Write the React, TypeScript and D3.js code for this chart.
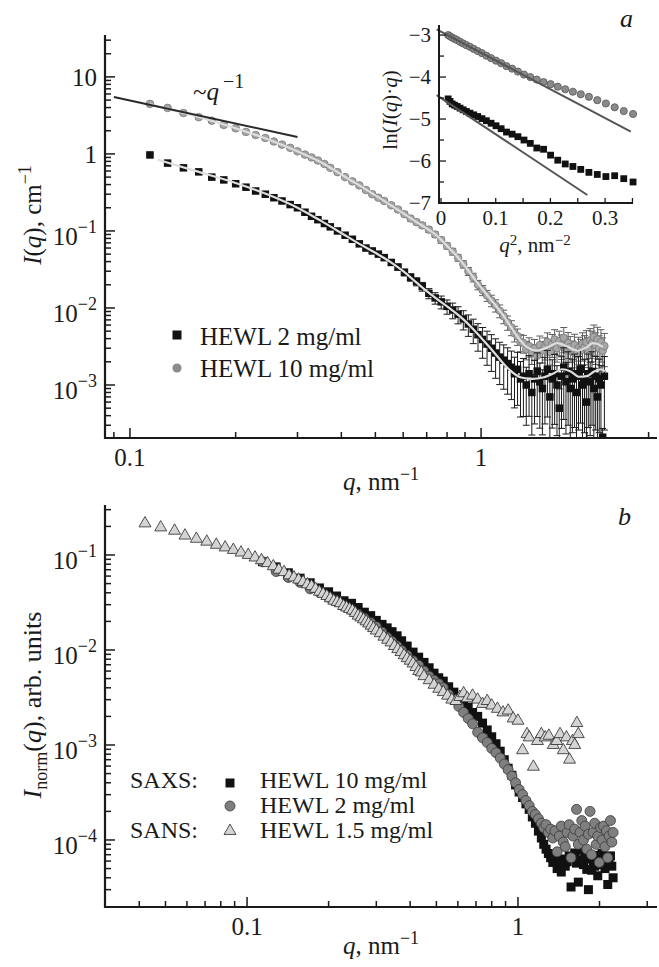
import * as d3 from "d3";

const FONT = "'Liberation Serif', 'Times New Roman', Times, serif";
const W = 659;
const H = 967;

// ---- panel a: SAXS, absolute intensity (q in nm^-1, I in cm^-1) ----
const qSaxs = [
  0.114, 0.128, 0.142, 0.157, 0.171, 0.185, 0.2, 0.214, 0.228, 0.243, 0.257, 0.271, 0.286, 0.3, 0.315, 0.329, 0.343, 0.358, 0.372,
  0.39, 0.41, 0.43, 0.45, 0.47, 0.49, 0.51, 0.53, 0.555, 0.58, 0.605, 0.63, 0.655, 0.68, 0.71, 0.74, 0.77, 0.8, 0.83, 0.86, 0.89,
  0.92, 0.95, 0.98, 1.01, 1.04, 1.07, 1.1, 1.13, 1.16, 1.19,
  1.22, 1.245, 1.27, 1.295, 1.32, 1.345, 1.37, 1.395, 1.42, 1.445, 1.47, 1.495, 1.52, 1.545, 1.57, 1.595, 1.62, 1.645, 1.67, 1.695,
  1.72, 1.745, 1.77, 1.795, 1.82, 1.845, 1.87, 1.895, 1.92, 1.945, 1.97, 1.995, 2.02, 2.045, 2.07, 2.095, 2.12, 2.145, 2.17, 2.195,
  2.22, 2.245,
];

const iTop2mg = [
  0.97, 0.76, 0.66, 0.585, 0.5, 0.46, 0.41, 0.37, 0.33, 0.3, 0.27, 0.245, 0.22, 0.2, 0.175, 0.155, 0.14, 0.125, 0.113,
  0.1, 0.088, 0.078, 0.068, 0.06, 0.055, 0.05, 0.045, 0.039, 0.034, 0.029, 0.025, 0.022, 0.019, 0.0155, 0.0135, 0.012, 0.0105,
  0.0094, 0.0083, 0.0072, 0.0062, 0.0053, 0.0045, 0.0039, 0.0034, 0.003, 0.0026, 0.0023, 0.0021, 0.0019,
  0.0017, 0.0014, 0.0016, 0.0012, 0.0013, 0.001, 0.0014, 0.0008, 0.0012, 0.0015, 0.0011, 0.0009, 0.0013, 0.0016, 0.0007, 0.0012,
  0.0014, 0.001, 0.0005, 0.0013, 0.0017, 0.0011, 0.0015, 0.0009, 0.0012, 0.0014, 0.0008, 0.0013, 0.0016, 0.001, 0.0012, 0.0006,
  0.0014, 0.0011, 0.0015, 0.0009, 0.0013, 0.0007, 0.0012, 0.001, 0.00021, 0.0013,
];

const iTop10mg = [
  4.46, 3.96, 3.4, 3.0, 2.7, 2.38, 2.15, 1.93, 1.76, 1.61, 1.45, 1.32, 1.2, 1.08, 0.98, 0.9, 0.82, 0.74, 0.66,
  0.58, 0.5, 0.44, 0.39, 0.34, 0.3, 0.27, 0.245, 0.215, 0.19, 0.165, 0.145, 0.13, 0.118, 0.104, 0.09, 0.076, 0.064, 0.054, 0.045,
  0.037, 0.03, 0.025, 0.02, 0.017, 0.0145, 0.0125, 0.0108, 0.0092, 0.0078, 0.0065,
  0.0056, 0.0047, 0.0043, 0.0036, 0.0035, 0.0029, 0.0032, 0.0026, 0.003, 0.0024, 0.0033, 0.0028, 0.0031, 0.0036, 0.0027, 0.0034,
  0.0039, 0.003, 0.0037, 0.0033, 0.0041, 0.0029, 0.0035, 0.0031, 0.0027, 0.0033, 0.0025, 0.003, 0.0028, 0.0034, 0.0031, 0.0036,
  0.0029, 0.0038, 0.0035, 0.0042, 0.0033, 0.0039, 0.003, 0.0036, 0.0028, 0.0032,
];

// relative errors
const errTop2mg = [
  0.04, 0.04, 0.04, 0.04, 0.04, 0.04, 0.04, 0.04, 0.04, 0.04, 0.04, 0.04, 0.04, 0.04, 0.04, 0.04, 0.04, 0.04, 0.04,
  0.04, 0.04, 0.05, 0.05, 0.05, 0.06, 0.06, 0.07, 0.08, 0.09, 0.1, 0.11, 0.12, 0.13, 0.15, 0.17, 0.19, 0.21, 0.23, 0.25,
  0.28, 0.31, 0.35, 0.39, 0.43, 0.47, 0.5, 0.53, 0.56, 0.58, 0.6,
  0.62, 0.64, 0.66, 0.68, 0.7, 0.7, 0.72, 0.72, 0.74, 0.74, 0.75, 0.75, 0.76, 0.76, 0.77, 0.77, 0.78, 0.78, 0.78, 0.79,
  0.79, 0.79, 0.8, 0.8, 0.8, 0.8, 0.8, 0.8, 0.8, 0.8, 0.8, 0.8, 0.8, 0.8, 0.8, 0.8, 0.8, 0.8, 0.8, 0.8, 0.3, 0.8,
];

const errTop10mg = [
  0.05, 0.05, 0.05, 0.05, 0.05, 0.05, 0.05, 0.05, 0.05, 0.05, 0.05, 0.05, 0.05, 0.05, 0.05, 0.05, 0.05, 0.05, 0.05,
  0.05, 0.05, 0.05, 0.05, 0.05, 0.05, 0.05, 0.05, 0.06, 0.06, 0.06, 0.07, 0.07, 0.07, 0.08, 0.08, 0.09, 0.09, 0.1, 0.1,
  0.11, 0.12, 0.13, 0.14, 0.15, 0.16, 0.17, 0.18, 0.19, 0.2, 0.21,
  0.22, 0.23, 0.24, 0.25, 0.26, 0.27, 0.28, 0.29, 0.3, 0.3, 0.31, 0.31, 0.32, 0.32, 0.33, 0.33, 0.34, 0.34, 0.35, 0.35,
  0.36, 0.36, 0.37, 0.37, 0.38, 0.38, 0.39, 0.39, 0.4, 0.4, 0.41, 0.41, 0.42, 0.42, 0.43, 0.43, 0.44, 0.44, 0.45, 0.45, 0.46, 0.46,
];

// model curves drawn over the data
const fitQ2mg = [0.12, 0.15, 0.2, 0.25, 0.3, 0.35, 0.4, 0.45, 0.5, 0.55, 0.6, 0.65, 0.7, 0.75, 0.8, 0.85, 0.9, 0.95, 1.0, 1.05, 1.1, 1.2, 1.3, 1.4, 1.5, 1.6, 1.7, 1.8, 1.9, 2.0, 2.1, 2.2, 2.25];
const fitI2mg = [0.84, 0.62, 0.42, 0.29, 0.2, 0.135, 0.094, 0.068, 0.052, 0.04, 0.03, 0.022, 0.0165, 0.013, 0.0105, 0.0085, 0.0068, 0.0053, 0.0041, 0.0032, 0.0025, 0.0016, 0.00125, 0.0012, 0.00125, 0.0014, 0.0016, 0.0015, 0.00128, 0.0013, 0.0015, 0.0016, 0.0015];
const fitQ10mg = [0.114, 0.15, 0.2, 0.25, 0.3, 0.35, 0.4, 0.45, 0.5, 0.55, 0.6, 0.65, 0.7, 0.75, 0.8, 0.85, 0.9, 0.95, 1.0, 1.05, 1.1, 1.15, 1.2, 1.25, 1.3, 1.35, 1.44, 1.55, 1.65, 1.75, 1.88, 2.0, 2.08, 2.15, 2.22];
const fitI10mg = [4.4, 3.2, 2.15, 1.52, 1.08, 0.78, 0.54, 0.39, 0.29, 0.22, 0.17, 0.133, 0.108, 0.086, 0.064, 0.048, 0.035, 0.025, 0.0185, 0.014, 0.0108, 0.0083, 0.0062, 0.0047, 0.0037, 0.0031, 0.0028, 0.0031, 0.0035, 0.0032, 0.0028, 0.0031, 0.0035, 0.0034, 0.0031];

// ~q^-1 guide
const powerQ = [0.09, 0.3];
const powerI = [5.5, 1.66];

// ---- inset: ln(I q) vs q^2 ----
const insetQ2 = [
  0.013, 0.0165, 0.0204, 0.0248, 0.0296, 0.0348, 0.0404, 0.0464, 0.0529, 0.0598, 0.0671, 0.0748, 0.0829, 0.0915, 0.1005, 0.1099,
  0.1197, 0.13, 0.1406, 0.1517, 0.1632, 0.1751, 0.1875, 0.2003, 0.2134, 0.2271, 0.2411, 0.2555, 0.2704, 0.2857, 0.3014, 0.3175,
  0.3341, 0.3511,
];
const insetLn10mg = [
  -3.0, -3.03, -3.06, -3.09, -3.12, -3.16, -3.2, -3.24, -3.28, -3.33, -3.38, -3.43, -3.49, -3.55, -3.61, -3.67, -3.74, -3.8,
  -3.87, -3.94, -4.0, -4.06, -4.12, -4.17, -4.23, -4.29, -4.35, -4.41, -4.47, -4.55, -4.63, -4.72, -4.81, -4.88,
];
const insetLn2mg = [
  -4.52, -4.58, -4.64, -4.67, -4.7, -4.74, -4.78, -4.82, -4.86, -4.9, -4.94, -4.99, -5.04, -5.1, -5.16, -5.23, -5.31, -5.36,
  -5.42, -5.5, -5.58, -5.69, -5.72, -5.86, -5.98, -6.07, -6.13, -6.2, -6.27, -6.32, -6.37, -6.35, -6.42, -6.5,
];
const guinierQ2_10mg = [-0.008, 0.347];
const guinierLn10mg = [-2.864, -5.3];
const guinierQ2_2mg = [-0.008, 0.2675];
const guinierLn2mg = [-4.43, -6.81];

// ---- panel b: normalized SAXS + SANS ----
const iNorm10mg = [
  0.085, 0.075, 0.065, 0.057, 0.051, 0.045, 0.041, 0.037, 0.033, 0.031, 0.028, 0.025, 0.023, 0.0205, 0.0186, 0.0171, 0.0156, 0.0141, 0.0125,
  0.011, 0.0095, 0.0084, 0.0074, 0.0065, 0.0057, 0.0051, 0.0047, 0.0041, 0.0036, 0.0031, 0.0028, 0.0025, 0.0022, 0.002, 0.0017,
  0.00144, 0.00122, 0.00103, 0.00086, 0.0007, 0.00057, 0.00048, 0.00038, 0.00032, 0.00028, 0.00024, 0.00021, 0.000175, 0.00015, 0.000124,
  1.05e-4, 9.0e-5, 8.0e-5, 7.2e-5, 6.5e-5, 5.8e-5, 6.2e-5, 5.0e-5, 5.6e-5, 4.6e-5, 6.3e-5, 5.3e-5, 5.9e-5, 6.8e-5, 3.2e-5, 6.4e-5,
  7.3e-5, 5.7e-5, 3.6e-5, 6.2e-5, 7.8e-5, 5.5e-5, 6.6e-5, 4.9e-5, 3.0e-5, 6.3e-5, 4.8e-5, 5.7e-5, 5.3e-5, 6.5e-5, 4.2e-5, 6.9e-5,
  5.5e-5, 7.2e-5, 6.6e-5, 5.0e-5, 6.3e-5, 3.4e-5, 5.7e-5, 6.8e-5, 5.3e-5, 4.0e-5,
];
const iNorm2mg = [
  0.085, 0.067, 0.058, 0.0515, 0.044, 0.0405, 0.036, 0.0326, 0.029, 0.0264, 0.0238, 0.0216, 0.0194, 0.0176, 0.0154, 0.0136, 0.0123, 0.011, 0.0099,
  0.0088, 0.0077, 0.0069, 0.006, 0.0053, 0.0048, 0.0044, 0.004, 0.0034, 0.003, 0.00255, 0.0022, 0.0019, 0.00167, 0.00136, 0.00119,
  0.00106, 0.00092, 0.00083, 0.00073, 0.00063, 0.00055, 0.00047, 0.0004, 0.00034, 0.0003, 0.00026, 0.00023, 0.0002, 0.000185, 0.000167,
  1.5e-4, 1.35e-4, 1.45e-4, 1.2e-4, 1.3e-4, 1.05e-4, 1.25e-4, 7.5e-5, 1.1e-4, 1.4e-4, 9.5e-5, 8.5e-5, 1.2e-4, 1.45e-4, 6.5e-5, 1.1e-4,
  1.3e-4, 2.1e-4, 9.0e-5, 1.2e-4, 1.6e-4, 1.0e-4, 1.4e-4, 8.0e-5, 1.15e-4, 2.0e-4, 7.0e-5, 1.2e-4, 1.5e-4, 9.0e-5, 1.1e-4, 5.8e-5,
  1.35e-4, 1.0e-4, 1.4e-4, 8.5e-5, 1.25e-4, 6.5e-5, 1.1e-4, 1.6e-4, 9.5e-5, 1.2e-4,
];
const qSans = [
  0.042, 0.048, 0.054, 0.059, 0.065, 0.071, 0.077, 0.083, 0.089, 0.095, 0.101, 0.107, 0.113, 0.119, 0.125, 0.131, 0.137, 0.143,
  0.149, 0.155, 0.161, 0.167, 0.173, 0.179, 0.185, 0.191, 0.197, 0.203, 0.209, 0.215, 0.221, 0.227, 0.233, 0.239, 0.245, 0.251,
  0.257, 0.263, 0.269, 0.275, 0.281, 0.287, 0.293, 0.3, 0.31, 0.32, 0.33, 0.34, 0.35, 0.36, 0.37, 0.38, 0.39, 0.4, 0.41, 0.42,
  0.43, 0.44, 0.45, 0.47, 0.49, 0.51, 0.53, 0.55, 0.57, 0.59, 0.61, 0.63, 0.65, 0.68, 0.71, 0.74, 0.77, 0.8, 0.84, 0.88, 0.92,
  0.96, 1.0, 1.04, 1.08, 1.1, 1.14, 1.18, 1.22, 1.26, 1.3, 1.35, 1.39, 1.43, 1.47, 1.51, 1.55, 1.59, 1.62, 1.65, 1.67,
];
const iNormSans = [
  0.215, 0.195, 0.18, 0.16, 0.148, 0.138, 0.128, 0.12, 0.113, 0.106, 0.1, 0.094, 0.088, 0.082, 0.076, 0.07, 0.066, 0.061, 0.058,
  0.055, 0.052, 0.049, 0.047, 0.044, 0.041, 0.039, 0.037, 0.035, 0.033, 0.032, 0.031, 0.029, 0.028, 0.027, 0.026, 0.0245, 0.023,
  0.022, 0.021, 0.02, 0.019, 0.018, 0.017, 0.016, 0.015, 0.0138, 0.0128, 0.012, 0.011, 0.0102, 0.0095, 0.0088, 0.0082, 0.0077,
  0.0072, 0.0066, 0.006, 0.0058, 0.0053, 0.0048, 0.0043, 0.0039, 0.0036, 0.0033, 0.003, 0.0029, 0.0032, 0.0035, 0.0031, 0.0033,
  0.003, 0.0027, 0.0029, 0.0026, 0.0024, 0.0022, 0.0023, 0.0019, 0.0018, 0.00088, 0.0013, 0.0012, 0.00059, 0.0011, 0.0013,
  0.0012, 0.00125, 0.001, 0.0011, 0.0013, 0.00088, 0.0012, 0.0007, 0.0011, 0.001, 0.0017, 0.0013,
];

// tick labels
const topXTicks = [0.1, 1];
const topXLabels = ["0.1", "1"];
const topYTicks = [1e-3, 1e-2, 1e-1, 1, 10];
const topYLabels: [string, string][] = [["10", "−3"], ["10", "−2"], ["10", "−1"], ["1", ""], ["10", ""]];
const botXTicks = [0.1, 1];
const botXLabels = ["0.1", "1"];
const botYTicks = [1e-4, 1e-3, 1e-2, 1e-1];
const botYLabels: [string, string][] = [["10", "−4"], ["10", "−3"], ["10", "−2"], ["10", "−1"]];
const insetXTicks = [0, 0.05, 0.1, 0.15, 0.2, 0.25, 0.3, 0.35];
const insetXLabels = ["0", "", "0.1", "", "0.2", "", "0.3", ""];
const insetYTicks = [-7, -6.5, -6, -5.5, -5, -4.5, -4, -3.5, -3];
const insetYLabels = ["−7", "", "−6", "", "−5", "", "−4", "", "−3"];

// ---- layout ----
const TOP = { left: 105, right: 657, top: 35, bottom: 438 };
const BOT = { left: 105, right: 657, top: 505, bottom: 907 };
const INSET = { left: 439, right: 633, top: 25, bottom: 203 };

const xTop = d3.scaleLog().domain([0.0849, 3.17]).range([TOP.left, TOP.right]);
const yTop = d3.scaleLog().domain([2.05e-4, 35]).range([TOP.bottom, TOP.top]);
const xBot = d3.scaleLog().domain([0.0299, 3.26]).range([BOT.left, BOT.right]);
const yBot = d3.scaleLog().domain([1.97e-5, 0.336]).range([BOT.bottom, BOT.top]);
const xIn = d3.scaleLinear().domain([-0.0037, 0.351]).range([INSET.left, INSET.right]);
const yIn = d3.scaleLinear().domain([-7, -2.76]).range([INSET.bottom, INSET.top]);

type Scale = (v: number) => number;

const isDecade = (v: number) => Math.abs(Math.log10(v) - Math.round(Math.log10(v))) < 1e-6;

const LogFrame = ({
  x, y, box, xTicks, xLabels, yTicks, yLabels,
}: {
  x: d3.ScaleLogarithmic<number, number>;
  y: d3.ScaleLogarithmic<number, number>;
  box: { left: number; right: number; top: number; bottom: number };
  xTicks: number[]; xLabels: string[]; yTicks: number[]; yLabels: [string, string][];
}) => {
  const [x0, x1] = x.domain();
  const [y0, y1] = y.domain();
  const xt = x.ticks().filter((v) => v > x0 * 1.03 && v < x1);
  const yt = y.ticks().filter((v) => v > y0 * 1.03 && v < y1);
  return (
    <g>
      <g stroke="#1a1a1a" strokeWidth={1.5}>
        {xt.map((v, i) => (
          <line key={"x" + i} x1={x(v)} x2={x(v)} y1={box.bottom} y2={box.bottom - (isDecade(v) ? 10 : 6)} />
        ))}
        {yt.map((v, i) => (
          <line key={"y" + i} y1={y(v)} y2={y(v)} x1={box.left} x2={box.left + (isDecade(v) ? 10 : 6)} />
        ))}
      </g>
      <path
        d={`M${box.left},${box.top}V${box.bottom}H${box.right}`}
        fill="none" stroke="#1a1a1a" strokeWidth={2.2}
      />
      {xTicks.map((v, i) => (
        <text key={"xl" + i} x={x(v)} y={box.bottom + 28} textAnchor="middle" fontSize={25}>{xLabels[i]}</text>
      ))}
      {yTicks.map((v, i) => {
        const [base, exp] = yLabels[i];
        return exp ? (
          <text key={"yl" + i} x={97} y={y(v) + 14} textAnchor="end" fontSize={25}>
            {base}<tspan dy={-12} fontSize={18}>{exp}</tspan>
          </text>
        ) : (
          <text key={"yl" + i} x={97} y={y(v) + 9} textAnchor="end" fontSize={25}>{base}</text>
        );
      })}
    </g>
  );
};

const ErrorBars = ({ qs, vals, rel, x, y, color }: {
  qs: number[]; vals: number[]; rel: number[]; x: Scale; y: Scale; color: string;
}) => (
  <g stroke={color} strokeWidth={1}>
    {qs.map((q, i) => {
      const cx = x(q);
      const lo = y(vals[i] * (1 - rel[i]));
      const hi = y(vals[i] * (1 + rel[i]));
      return (
        <g key={i}>
          <line x1={cx} x2={cx} y1={lo} y2={hi} />
          <line x1={cx - 3.5} x2={cx + 3.5} y1={lo} y2={lo} />
          <line x1={cx - 3.5} x2={cx + 3.5} y1={hi} y2={hi} />
        </g>
      );
    })}
  </g>
);

const Squares = ({ qs, vals, x, y, size, fill }: {
  qs: number[]; vals: number[]; x: Scale; y: Scale; size: number; fill: string;
}) => (
  <g fill={fill}>
    {qs.map((q, i) => (
      <rect key={i} x={x(q) - size / 2} y={y(vals[i]) - size / 2} width={size} height={size} />
    ))}
  </g>
);

const Circles = ({ qs, vals, x, y, r, fill, stroke }: {
  qs: number[]; vals: number[]; x: Scale; y: Scale; r: number; fill: string; stroke: string;
}) => (
  <g fill={fill} stroke={stroke} strokeWidth={0.8}>
    {qs.map((q, i) => (
      <circle key={i} cx={x(q)} cy={y(vals[i])} r={r} />
    ))}
  </g>
);

const triangle = d3.symbol().type(d3.symbolTriangle).size(62)() as string;

const curve = (qs: number[], vals: number[], x: Scale, y: Scale) =>
  d3.line<number>()
    .x((q) => x(q))
    .y((_, i) => y(vals[i]))
    .curve(d3.curveMonotoneX)(qs) as string;

export default function App() {
  return (
    <svg
      width={W}
      height={H}
      viewBox={`0 0 ${W} ${H}`}
      style={{ position: "absolute", left: 0, top: 0, display: "block", background: "#fff" }}
      fontFamily={FONT}
      fill="#1a1a1a"
    >
      <defs>
        <clipPath id="clipTop">
          <rect x={TOP.left} y={TOP.top - 10} width={TOP.right - TOP.left} height={TOP.bottom - TOP.top + 10} />
        </clipPath>
        <clipPath id="clipBot">
          <rect x={BOT.left} y={BOT.top} width={BOT.right - BOT.left} height={BOT.bottom - BOT.top} />
        </clipPath>
      </defs>

      {/* ---------- panel a ---------- */}
      <g clipPath="url(#clipTop)">
        <ErrorBars qs={qSaxs} vals={iTop10mg} rel={errTop10mg} x={xTop} y={yTop} color="#5c5c5c" />
        <Circles qs={qSaxs} vals={iTop10mg} x={xTop} y={yTop} r={3.8} fill="#a6a6a6" stroke="#777" />
        <ErrorBars qs={qSaxs} vals={iTop2mg} rel={errTop2mg} x={xTop} y={yTop} color="#1a1a1a" />
        <Squares qs={qSaxs} vals={iTop2mg} x={xTop} y={yTop} size={7.5} fill="#111" />
        <path d={curve(fitQ10mg, fitI10mg, xTop, yTop)} fill="none" stroke="#dedede" strokeWidth={2.2} />
        <path d={curve(fitQ2mg, fitI2mg, xTop, yTop)} fill="none" stroke="#dedede" strokeWidth={2.2} />
        <line
          x1={xTop(powerQ[0])} y1={yTop(powerI[0])} x2={xTop(powerQ[1])} y2={yTop(powerI[1])}
          stroke="#2a2a2a" strokeWidth={2}
        />
      </g>
      <LogFrame x={xTop} y={yTop} box={TOP} xTicks={topXTicks} xLabels={topXLabels} yTicks={topYTicks} yLabels={topYLabels} />

      <text x={193} y={100} fontSize={25}>
        ~<tspan fontStyle="italic">q</tspan>
        <tspan dx={4} dy={-12} fontSize={20}>−1</tspan>
      </text>

      <text transform="translate(41,215) rotate(-90)" textAnchor="middle" fontSize={25}>
        <tspan fontStyle="italic">I</tspan>(<tspan fontStyle="italic">q</tspan>), cm
        <tspan dy={-10} fontSize={18}>−1</tspan>
      </text>
      <text x={381} y={490} textAnchor="middle" fontSize={25}>
        <tspan fontStyle="italic">q</tspan>, nm<tspan dy={-10} fontSize={18}>−1</tspan>
      </text>
      <text x={620} y={27} fontSize={26} fontStyle="italic">a</text>

      {/* legend a */}
      <rect x={172.5} y={330.5} width={9} height={9} fill="#111" />
      <circle cx={177} cy={368} r={4.6} fill="#8c8c8c" />
      <text x={200} y={345} fontSize={25}>HEWL 2 mg/ml</text>
      <text x={200} y={377} fontSize={25}>HEWL 10 mg/ml</text>

      {/* ---------- inset ---------- */}
      <g>
        <Circles qs={insetQ2} vals={insetLn10mg} x={xIn} y={yIn} r={3.6} fill="#8a8a8a" stroke="#555" />
        <Squares qs={insetQ2} vals={insetLn2mg} x={xIn} y={yIn} size={6.8} fill="#111" />
        <line
          x1={xIn(guinierQ2_10mg[0])} y1={yIn(guinierLn10mg[0])} x2={xIn(guinierQ2_10mg[1])} y2={yIn(guinierLn10mg[1])}
          stroke="#555" strokeWidth={2}
        />
        <line
          x1={xIn(guinierQ2_2mg[0])} y1={yIn(guinierLn2mg[0])} x2={xIn(guinierQ2_2mg[1])} y2={yIn(guinierLn2mg[1])}
          stroke="#555" strokeWidth={2}
        />
        <g stroke="#1a1a1a" strokeWidth={1.3}>
          {insetXTicks.map((v, i) => (
            <line key={"ix" + i} x1={xIn(v)} x2={xIn(v)} y1={INSET.bottom} y2={INSET.bottom - 5} />
          ))}
          {insetYTicks.map((v, i) => (
            <line key={"iy" + i} y1={yIn(v)} y2={yIn(v)} x1={INSET.left} x2={INSET.left + (insetYLabels[i] ? 7 : 5)} />
          ))}
        </g>
        <path
          d={`M${INSET.left},${INSET.top}V${INSET.bottom}H${INSET.right}`}
          fill="none" stroke="#1a1a1a" strokeWidth={2}
        />
        {insetXTicks.map((v, i) =>
          insetXLabels[i] ? (
            <text key={"ixl" + i} x={xIn(v)} y={225} textAnchor="middle" fontSize={21}>{insetXLabels[i]}</text>
          ) : null
        )}
        {insetYTicks.map((v, i) =>
          insetYLabels[i] ? (
            <text key={"iyl" + i} x={431} y={yIn(v) + 7} textAnchor="end" fontSize={21}>{insetYLabels[i]}</text>
          ) : null
        )}
        <text transform="translate(397,110) rotate(-90)" textAnchor="middle" fontSize={21}>
          ln(<tspan fontStyle="italic">I</tspan>(<tspan fontStyle="italic">q</tspan>)·<tspan fontStyle="italic">q</tspan>)
        </text>
        <text x={535} y={252} textAnchor="middle" fontSize={21}>
          <tspan fontStyle="italic">q</tspan>
          <tspan dy={-7} fontSize={15}>2</tspan>
          <tspan dy={7}>, nm</tspan>
          <tspan dy={-7} fontSize={15}>−2</tspan>
        </text>
      </g>

      {/* ---------- panel b ---------- */}
      <g clipPath="url(#clipBot)">
        <Squares qs={qSaxs} vals={iNorm10mg} x={xBot} y={yBot} size={9} fill="#111" />
        <Circles qs={qSaxs} vals={iNorm2mg} x={xBot} y={yBot} r={5} fill="#7f7f7f" stroke="#3a3a3a" />
        <g fill="#d4d4d4" stroke="#2a2a2a" strokeWidth={0.8}>
          {qSans.map((q, i) => (
            <path key={i} d={triangle} transform={`translate(${xBot(q)},${yBot(iNormSans[i])})`} />
          ))}
        </g>
      </g>
      <LogFrame x={xBot} y={yBot} box={BOT} xTicks={botXTicks} xLabels={botXLabels} yTicks={botYTicks} yLabels={botYLabels} />

      <text transform="translate(41,705) rotate(-90)" textAnchor="middle" fontSize={26}>
        <tspan fontStyle="italic">I</tspan>
        <tspan dy={6} fontSize={18}>norm</tspan>
        <tspan dy={-6}>(</tspan><tspan fontStyle="italic">q</tspan>), arb. units
      </text>
      <text x={381} y={954} textAnchor="middle" fontSize={25}>
        <tspan fontStyle="italic">q</tspan>, nm<tspan dy={-10} fontSize={18}>−1</tspan>
      </text>
      <text x={618} y={525} fontSize={26} fontStyle="italic">b</text>

      {/* legend b */}
      <text x={130} y={788} fontSize={24}>SAXS:</text>
      <text x={130} y={838} fontSize={24}>SANS:</text>
      <rect x={225.5} y={778.5} width={9} height={9} fill="#111" />
      <circle cx={230} cy={806} r={5} fill="#7f7f7f" stroke="#3a3a3a" strokeWidth={0.8} />
      <path d={triangle} transform="translate(230,831)" fill="#d4d4d4" stroke="#2a2a2a" strokeWidth={0.8} />
      <text x={260} y={788} fontSize={24}>HEWL 10 mg/ml</text>
      <text x={260} y={813} fontSize={24}>HEWL 2 mg/ml</text>
      <text x={260} y={838} fontSize={24}>HEWL 1.5 mg/ml</text>
    </svg>
  );
}
